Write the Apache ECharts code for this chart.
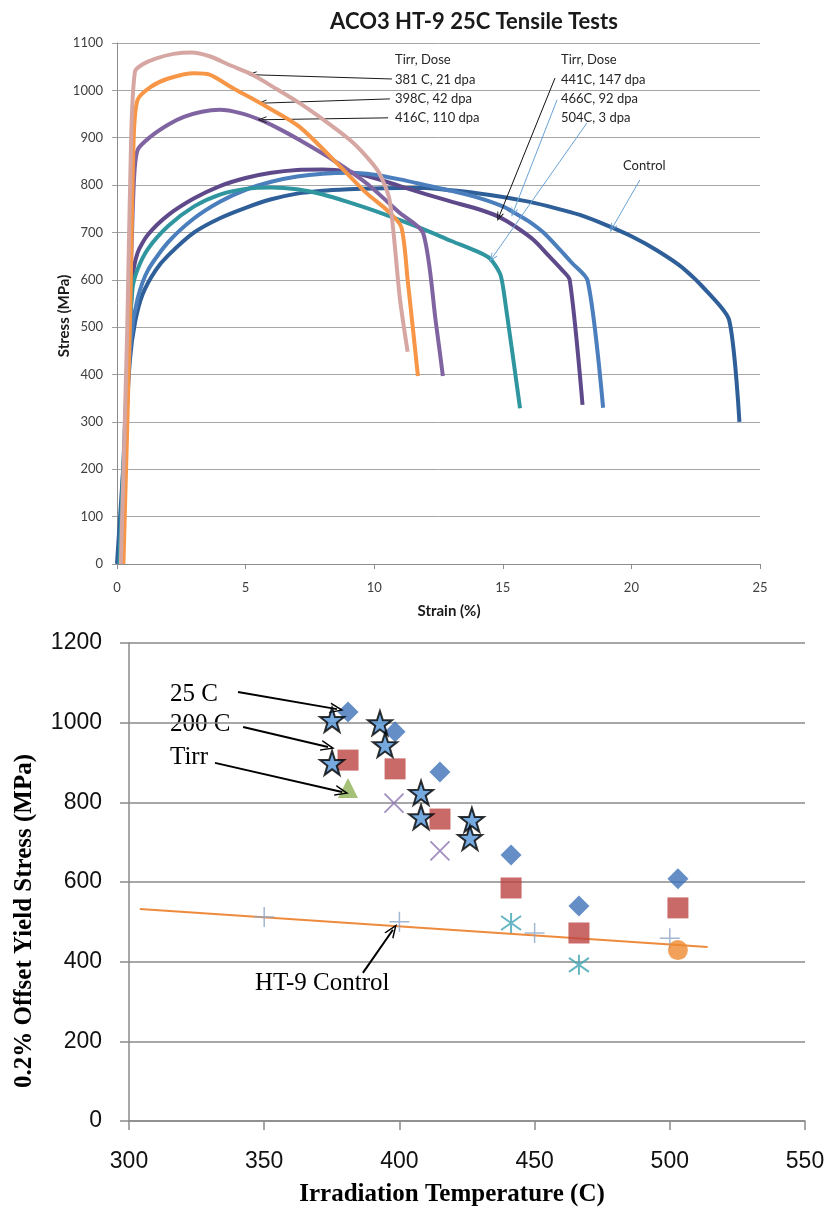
<!DOCTYPE html>
<html>
<head>
<meta charset="utf-8">
<title>ACO3 HT-9 Tensile and Yield Data</title>
<script src="https://cdn.jsdelivr.net/npm/echarts@6/dist/echarts.min.js"></script>
<style>
  html, body { margin: 0; padding: 0; background: #ffffff; }
  #chart { width: 833px; height: 1208px; }
</style>
</head>
<body>
<div id="chart"></div>
<script>
// ---------- Tensile curves at 25C: [strain %, stress MPa] ----------
const curveControl = [[0.0,0],[0.3,250],[0.5,430],[0.7,510],[1.0,570],[1.5,620],[2,652],[3,700],[4,730],[5,752],[6,770],[7,782],[8,788],[9,791],[10,793],[11,794],[12,794],[13,789],[14,783],[15,775],[16,765],[17,752],[18,737],[19,716],[20,692],[21,662],[22,625],[23,572],[23.8,515],[24.2,300]];
const curve441 = [[0.15,0],[0.4,350],[0.6,600],[0.8,657],[1.2,695],[2,737],[3,772],[4,798],[5,815],[6,826],[7,832],[8,833],[9,828],[10,815],[11,798],[12,781],[13,765],[14,750],[14.85,733],[15.5,712],[16.2,684],[16.8,650],[17.3,621],[17.6,600],[18.1,336]];
const curve466 = [[0.1,0],[0.35,300],[0.55,480],[0.8,560],[1.2,620],[2,680],[3,730],[4,765],[5,790],[6,807],[7,818],[8,824],[9,826],[10,822],[11,812],[12,800],[13,788],[14,774],[15,755],[15.5,740],[16,724],[16.6,699],[17.2,665],[17.7,635],[18.3,598],[18.9,330]];
const curve504 = [[0.1,0],[0.35,350],[0.6,580],[0.8,622],[1.2,665],[2,714],[3,755],[4,780],[5,792],[6,795],[7,791],[8,780],[9,764],[10,746],[11,726],[12,705],[13,682],[14,660],[14.5,645],[14.9,612],[15.05,570],[15.67,329]];
const curve381 = [[0.15,0],[0.4,500],[0.55,900],[0.7,1040],[1.0,1055],[1.5,1067],[2.2,1077],[2.9,1080],[3.6,1072],[4.4,1053],[5.2,1035],[6.2,1003],[7.1,973],[8.1,935],[9.06,895],[9.7,860],[10.2,825],[10.6,768],[11.0,560],[11.3,448]];
const curve398 = [[0.25,0],[0.5,500],[0.65,900],[0.8,980],[1.3,1007],[2,1025],[3,1036],[3.6,1033],[4.5,1005],[5.8,966],[7.1,923],[8.7,838],[9.7,783],[10.5,747],[11.05,712],[11.3,600],[11.7,397]];
const curve416 = [[0.2,0],[0.45,450],[0.65,800],[0.8,874],[1.3,902],[2,928],[2.6,944],[3.3,955],[4.0,959],[4.8,952],[5.6,937],[6.4,916],[7.1,895],[8.4,853],[9.7,804],[11.0,741],[11.9,699],[12.4,509],[12.67,397]];

const strainTicks = { min: 0, max: 25, step: 5 };
const stressTicks = { min: 0, max: 1100, step: 100 };

// ---------- Yield stress vs irradiation temperature: [T (C), MPa] ----------
const yield25C = [[381,1027],[398.4,977],[415,876],[441.3,668],[466.4,540],[503,608]];
const yield200C = [[381,906],[398.4,884],[415,758],[441.3,585],[466.4,472],[503,535]];
const yieldTirr = [[381,836]];
const yieldCross = [[398,798],[415,678]];
const yieldAsterisk = [[441.3,497],[466.4,392]];
const yieldCircle = [[503,429]];
const yieldControl = [[350,512],[400,500],[450,472],[500,459]];
const yieldStars = [[375.1,1007],[375.1,899],[392.8,999],[394.7,944],[408,824],[408,763],[426.8,756],[426.1,711]];
const controlTrend = [[304,532],[514,437]];

const tempTicks = { min: 300, max: 550, step: 50 };
const yieldTicks = { min: 0, max: 1200, step: 200 };

// ---------- annotation arrows (tail -> head, in data units) ----------
const arrowsTop = [
  { from: [10.69,1024], to: [5.25,1033], color: '#1a1a1a' },
  { from: [10.61,982], to: [5.64,973], color: '#1a1a1a' },
  { from: [10.54,942], to: [5.64,938], color: '#1a1a1a' },
  { from: [17.03,1026], to: [14.85,733], color: '#111111' },
  { from: [17.11,980], to: [15.40,742], color: '#6BA3D6' },
  { from: [18.27,931], to: [14.58,646], color: '#6BA3D6' },
  { from: [20.33,811], to: [19.25,709], color: '#6BA3D6' }
];
const arrowsBottom = [
  { from: [340.3,1077], to: [376.9,1034] },
  { from: [342.2,989], to: [373.6,939] },
  { from: [331.8,899], to: [378.8,826] },
  { from: [386.5,372], to: [397.6,480] }
];

const chevron = 'path://M5,0 L10,10 L8.6,10 L5,2.8 L1.4,10 L0,10 Z';
const starPath = 'path://M50,0 L61.8,35.1 L98.9,35.4 L69.1,57.5 L80.3,92.7 L50,71.3 L19.7,92.7 L30.9,57.5 L1.1,35.4 L38.2,35.1 Z';
const crossPath = 'path://M0,0 L20,20 M20,0 L0,20';
const asteriskPath = 'path://M10,0 L10,20 M2,3 L18,17 M2,17 L18,3';
const plusPath = 'path://M10,0 L10,20 M0,10 L20,10';

function arrowMarkLine(list, width, size) {
  return {
    silent: true,
    animation: false,
    symbol: ['none', chevron],
    symbolSize: size,
    label: { show: false },
    emphasis: { disabled: true },
    data: list.map(a => [
      { coord: a.from, lineStyle: { color: a.color || '#000', width: width, type: 'solid' }, itemStyle: { color: a.color || '#000' } },
      { coord: a.to }
    ])
  };
}

function curve(name, data, color, z) {
  return {
    name, type: 'line', xAxisIndex: 0, yAxisIndex: 0, data,
    showSymbol: false, smooth: 0.25,
    lineStyle: { color, width: 4 }, itemStyle: { color }, z: z || 2,
    emphasis: { disabled: true }
  };
}

function scatter(name, data, symbol, size, itemStyle, z) {
  return {
    name, type: 'scatter', xAxisIndex: 1, yAxisIndex: 1, data,
    symbol, symbolSize: size, itemStyle, z: z || 3,
    emphasis: { disabled: true }
  };
}

const plain = v => String(v);
const topFont = 'Lato';
const serif = '"Liberation Serif", "DejaVu Serif", serif';
const sans = '"Liberation Sans", Arial, sans-serif';

const chart = echarts.init(document.getElementById('chart'), null, { renderer: 'canvas' });

const option = {
  animation: false,
  backgroundColor: '#ffffff',
  grid: [
    { left: 117, top: 43, width: 643, height: 521 },
    { left: 129, top: 643, width: 676, height: 478 }
  ],
  xAxis: [
    {
      gridIndex: 0, type: 'value', min: strainTicks.min, max: strainTicks.max, interval: strainTicks.step,
      axisLine: { show: true, lineStyle: { color: '#8c8c8c', width: 1 } },
      axisTick: { show: true, length: 5, lineStyle: { color: '#8c8c8c' } },
      splitLine: { show: false },
      axisLabel: { color: '#404040', fontFamily: topFont, fontSize: 13, margin: 17, formatter: plain }
    },
    {
      gridIndex: 1, type: 'value', min: tempTicks.min, max: tempTicks.max, interval: tempTicks.step,
      axisLine: { show: true, onZero: false, lineStyle: { color: '#8a8a8a', width: 1.5 } },
      axisTick: { show: true, length: 9, lineStyle: { color: '#8a8a8a', width: 1.5 } },
      splitLine: { show: false },
      axisLabel: { color: '#111', fontFamily: sans, fontSize: 23, margin: 29, formatter: plain }
    }
  ],
  yAxis: [
    {
      gridIndex: 0, type: 'value', min: stressTicks.min, max: stressTicks.max, interval: stressTicks.step,
      axisLine: { show: true, lineStyle: { color: '#8c8c8c', width: 1 } },
      axisTick: { show: true, length: 5, lineStyle: { color: '#a0a0a0' } },
      splitLine: { show: true, lineStyle: { color: '#a6a6a6', width: 1 } },
      axisLabel: { color: '#404040', fontFamily: topFont, fontSize: 13, margin: 14, formatter: plain }
    },
    {
      gridIndex: 1, type: 'value', min: yieldTicks.min, max: yieldTicks.max, interval: yieldTicks.step,
      axisLine: { show: true, lineStyle: { color: '#8a8a8a', width: 1.5 } },
      axisTick: { show: true, length: 9, lineStyle: { color: '#8a8a8a', width: 1.5 } },
      splitLine: { show: true, lineStyle: { color: '#8a8a8a', width: 1.5 } },
      axisLabel: { color: '#111', fontFamily: sans, fontSize: 23, margin: 27, formatter: plain }
    }
  ],
  series: [
    curve('Control', curveControl, '#2F5F98', 2),
    Object.assign(curve('441C, 147 dpa', curve441, '#5E4A8A', 3), { markLine: arrowMarkLine(arrowsTop.slice(3), 1, [7, 9]) }),
    curve('466C, 92 dpa', curve466, '#4A7EBD', 3),
    curve('504C, 3 dpa', curve504, '#2F96A0', 3),
    curve('416C, 110 dpa', curve416, '#8064A2', 4),
    curve('398C, 42 dpa', curve398, '#F79646', 5),
    Object.assign(curve('381 C, 21 dpa', curve381, '#D6A7A2', 6), { markLine: arrowMarkLine(arrowsTop.slice(0, 3), 1, [7, 9]) }),

    {
      name: 'HT-9 Control fit', type: 'line', xAxisIndex: 1, yAxisIndex: 1, data: controlTrend,
      showSymbol: false, lineStyle: { color: '#EE8A3C', width: 2 }, itemStyle: { color: '#EE8A3C' }, z: 2,
      emphasis: { disabled: true },
      markLine: arrowMarkLine(arrowsBottom, 2, [11, 14])
    },
    scatter('HT-9 Control', yieldControl, plusPath, 20, { color: 'none', borderColor: '#8DA4C6', borderWidth: 1.5 }, 3),
    scatter('25 C', yield25C, 'diamond', 21, { color: '#3F72B8' }, 4),
    scatter('200 C', yield200C, 'rect', 21, { color: '#BB4442' }, 4),
    scatter('Tirr', yieldTirr, 'triangle', 20, { color: '#8DB255' }, 4),
    scatter('Tirr 2', yieldCross, crossPath, 19, { color: 'none', borderColor: '#8A73B0', borderWidth: 1.8 }, 4),
    scatter('Tirr 3', yieldAsterisk, asteriskPath, 20, { color: 'none', borderColor: '#3EA4B3', borderWidth: 2 }, 4),
    scatter('Tirr 4', yieldCircle, 'circle', 20, { color: '#EE8A2F' }, 5),
    scatter('Tensile 25 C', yieldStars, starPath, 24, { color: '#5493D6', borderColor: '#000', borderWidth: 2 }, 6)
  ],
  graphic: [
    { type: 'text', x: 474, y: 22, style: { text: 'ACO3 HT-9 25C Tensile Tests', font: 'bold 22px ' + topFont, fill: '#1a1a1a', textAlign: 'center', textVerticalAlign: 'middle' } },
    { type: 'text', x: 64, y: 316, rotation: Math.PI / 2, style: { text: 'Stress (MPa)', font: 'bold 15px ' + topFont, fill: '#1a1a1a', textAlign: 'center', textVerticalAlign: 'middle' } },
    { type: 'text', x: 449, y: 611, style: { text: 'Strain (%)', font: 'bold 15px ' + topFont, fill: '#1a1a1a', textAlign: 'center', textVerticalAlign: 'middle' } },

    { type: 'text', x: 395, y: 60, style: { text: 'Tirr, Dose', font: '13px ' + topFont, fill: '#262626', textVerticalAlign: 'middle' } },
    { type: 'text', x: 395, y: 80, style: { text: '381 C, 21 dpa', font: '13px ' + topFont, fill: '#262626', textVerticalAlign: 'middle' } },
    { type: 'text', x: 395, y: 99, style: { text: '398C, 42 dpa', font: '13px ' + topFont, fill: '#262626', textVerticalAlign: 'middle' } },
    { type: 'text', x: 395, y: 118, style: { text: '416C, 110 dpa', font: '13px ' + topFont, fill: '#262626', textVerticalAlign: 'middle' } },
    { type: 'text', x: 561, y: 60, style: { text: 'Tirr, Dose', font: '13px ' + topFont, fill: '#262626', textVerticalAlign: 'middle' } },
    { type: 'text', x: 561, y: 80, style: { text: '441C, 147 dpa', font: '13px ' + topFont, fill: '#262626', textVerticalAlign: 'middle' } },
    { type: 'text', x: 561, y: 99, style: { text: '466C, 92 dpa', font: '13px ' + topFont, fill: '#262626', textVerticalAlign: 'middle' } },
    { type: 'text', x: 561, y: 118, style: { text: '504C, 3 dpa', font: '13px ' + topFont, fill: '#262626', textVerticalAlign: 'middle' } },
    { type: 'text', x: 623, y: 166, style: { text: 'Control', font: '13px ' + topFont, fill: '#262626', textVerticalAlign: 'middle' } },

    { type: 'text', x: 25, y: 921, rotation: Math.PI / 2, style: { text: '0.2% Offset Yield Stress (MPa)', font: 'bold 25px ' + serif, fill: '#000', textAlign: 'center', textVerticalAlign: 'middle' } },
    { type: 'text', x: 452, y: 1195, style: { text: 'Irradiation Temperature (C)', font: 'bold 25px ' + serif, fill: '#000', textAlign: 'center', textVerticalAlign: 'middle' } },
    { type: 'text', x: 170, y: 694, style: { text: '25 C', font: '25px ' + serif, fill: '#000', textVerticalAlign: 'middle' } },
    { type: 'text', x: 170, y: 724, style: { text: '200 C', font: '25px ' + serif, fill: '#000', textVerticalAlign: 'middle' } },
    { type: 'text', x: 170, y: 757, style: { text: 'Tirr', font: '25px ' + serif, fill: '#000', textVerticalAlign: 'middle' } },
    { type: 'text', x: 255, y: 983, style: { text: 'HT-9 Control', font: '25px ' + serif, fill: '#000', textVerticalAlign: 'middle' } }
  ]
};

chart.setOption(option);
</script>
</body>
</html>
